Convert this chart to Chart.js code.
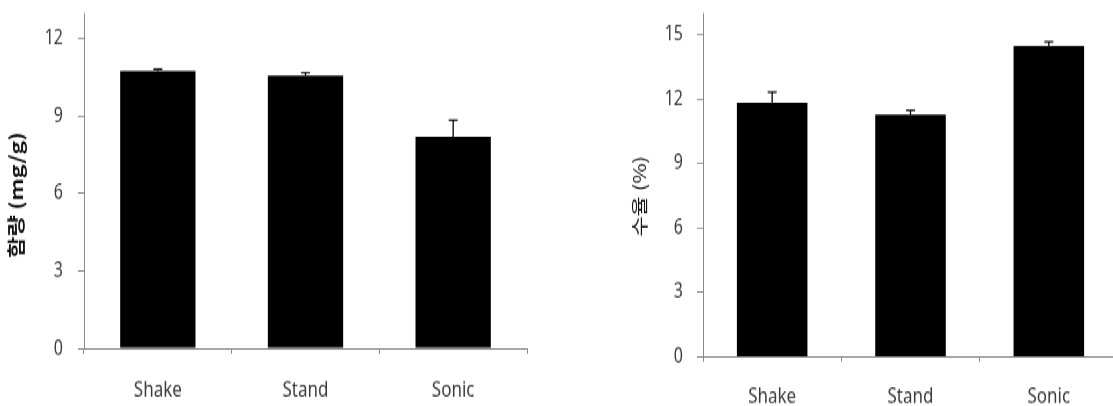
<!DOCTYPE html>
<html>
<head>
<meta charset="utf-8">
<script src="https://cdn.jsdelivr.net/npm/chart.js@4.4.0/dist/chart.umd.min.js"></script>
<style>
  html, body { margin: 0; padding: 0; background: #fff; overflow: hidden; width: 1113px; height: 406px; }
  /* the original picture is stretched vertically, so the whole drawing is too */
  #wrap { position: absolute; left: 0; top: 0; width: 1120px; height: 312px; transform: scaleY(1.3); transform-origin: 0 0; }
  #wrap canvas { position: absolute; top: 0; }
</style>
</head>
<body>
<div id="wrap">
  <canvas id="chartContent" width="556" height="312" style="left:0"></canvas>
  <canvas id="chartYield" width="564" height="312" style="left:556px"></canvas>
</div>
<script>
const categories = ['Shake', 'Stand', 'Sonic'];

// 함량 (mg/g)
const contentMeans = [10.76, 10.57, 8.21];
const contentErrors = [0.06, 0.12, 0.64];
const contentTicks = [0, 3, 6, 9, 12];
const contentMax = 13;

// 수율 (%)
const yieldMeans = [11.83, 11.27, 14.47];
const yieldErrors = [0.49, 0.20, 0.19];
const yieldTicks = [0, 3, 6, 9, 12, 15];
const yieldMax = 16;

const axisGray = '#8a8a8a';
const textGray = '#3a3a3a';

// upper error bars
const errorBars = {
  id: 'errorBars',
  afterDatasetsDraw(chart, args, opts) {
    const ctx = chart.ctx;
    const y = chart.scales.y;
    const meta = chart.getDatasetMeta(0);
    ctx.save();
    ctx.strokeStyle = '#000';
    ctx.lineWidth = 1.3;
    meta.data.forEach((bar, i) => {
      const v = chart.data.datasets[0].data[i];
      const top = y.getPixelForValue(v + opts.errors[i]);
      ctx.beginPath();
      ctx.moveTo(bar.x, y.getPixelForValue(v));
      ctx.lineTo(bar.x, top);
      ctx.moveTo(bar.x - 4.5, top);
      ctx.lineTo(bar.x + 4.5, top);
      ctx.stroke();
    });
    ctx.restore();
  }
};

// rotated y axis title
const yTitle = {
  id: 'yTitle',
  afterDraw(chart, args, opts) {
    const ctx = chart.ctx;
    ctx.save();
    ctx.translate(opts.x, opts.y);
    ctx.rotate(-Math.PI / 2);
    ctx.font = opts.font;
    ctx.fillStyle = '#111';
    ctx.textAlign = 'center';
    ctx.textBaseline = 'middle';
    ctx.fillText(opts.text, 0, 0);
    ctx.restore();
  }
};

function noPad(s) {
  s.paddingTop = 0; s.paddingBottom = 0; s.paddingLeft = 0; s.paddingRight = 0;
}

function makeChart(canvas, values, errors, ticks, max, cfg) {
  return new Chart(canvas, {
    type: 'bar',
    data: {
      labels: categories,
      datasets: [{
        data: values,
        backgroundColor: '#000',
        borderWidth: 0,
        barPercentage: 0.51,
        categoryPercentage: 1
      }]
    },
    options: {
      responsive: false,
      animation: false,
      layout: { padding: { top: 10, left: 0, right: cfg.padRight, bottom: 0 } },
      plugins: {
        legend: { display: false },
        tooltip: { enabled: false },
        errorBars: { errors: errors },
        yTitle: cfg.title
      },
      scales: {
        x: {
          grid: { display: true, offset: true, drawOnChartArea: false, color: axisGray, tickLength: 4 },
          border: { color: axisGray, width: 1 },
          ticks: { color: textGray, padding: cfg.xPad, font: { family: "'Noto Sans', sans-serif", size: 17 } },
          afterFit: s => { s.height = cfg.xHeight; noPad(s); }
        },
        y: {
          min: 0,
          max: max,
          grid: { drawOnChartArea: false, color: axisGray, tickLength: 6 },
          border: { color: axisGray, width: 1 },
          ticks: { color: textGray, padding: cfg.yPad, font: { family: "'Noto Sans', sans-serif", size: 16 } },
          afterBuildTicks: s => { s.ticks = ticks.map(v => ({ value: v })); },
          afterFit: s => { s.width = cfg.yWidth; noPad(s); }
        }
      }
    },
    plugins: [errorBars, yTitle]
  });
}

makeChart(document.getElementById('chartContent'), contentMeans, contentErrors, contentTicks, contentMax, {
  padRight: 29, yWidth: 84, yPad: 15, xHeight: 44, xPad: 18,
  title: { text: '함량 (mg/g)', x: 16, y: 150, font: "bold 18px 'Noto Sans CJK KR', sans-serif" }
});

makeChart(document.getElementById('chartYield'), yieldMeans, yieldErrors, yieldTicks, yieldMax, {
  padRight: 2, yWidth: 147, yPad: 14, xHeight: 37.6, xPad: 17,
  title: { text: '수율 (%)', x: 84, y: 151, font: "17px 'Noto Sans CJK KR', sans-serif" }
});
</script>
</body>
</html>
